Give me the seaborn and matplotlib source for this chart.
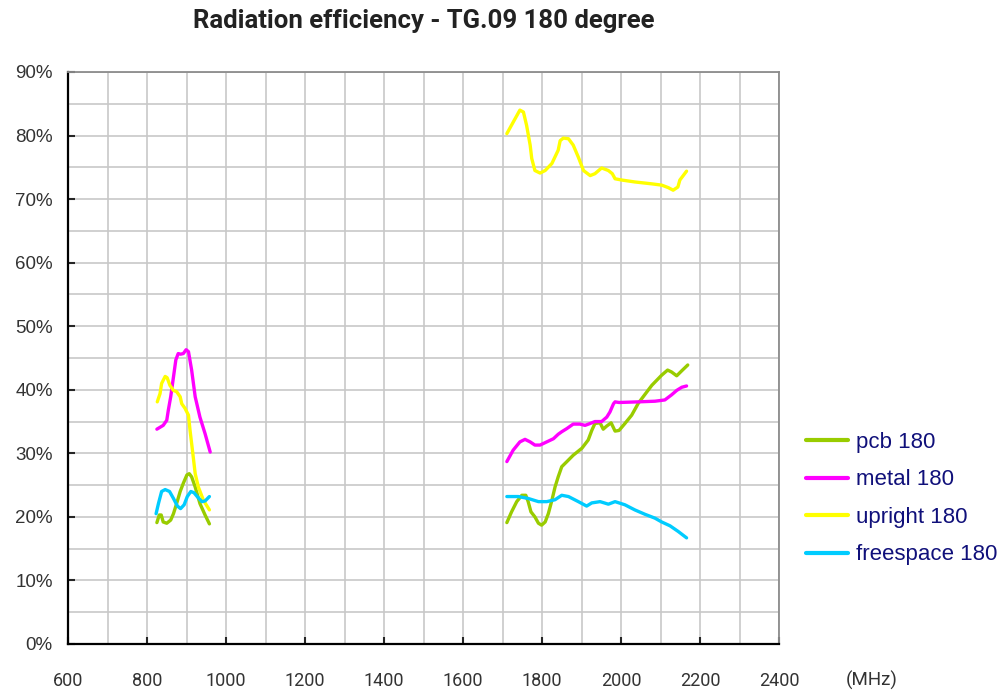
import numpy as np
import pandas as pd
import seaborn as sns
import matplotlib.pyplot as plt
from matplotlib.ticker import MultipleLocator, FuncFormatter

### valores (MHz, eficiencia em %)
pcb_lo_f = [825, 831, 836, 841, 850, 860, 867, 875, 884, 892, 901, 907, 913, 922, 934, 947, 958]
pcb_lo_v = [19.1, 20.3, 20.3, 19.2, 19.0, 19.5, 20.5, 22.1, 24.0, 25.3, 26.6, 26.8, 26.3, 24.7, 22.1, 20.3, 18.9]
pcb_hi_f = [1711, 1723, 1736, 1749, 1759, 1765, 1772, 1782, 1791, 1799, 1808, 1816, 1825, 1833, 1841, 1850,
            1863, 1879, 1901, 1917, 1926, 1934, 1947, 1955, 1964, 1975, 1985, 1995, 2010, 2027, 2044,
            2078, 2103, 2118, 2128, 2141, 2154, 2169]
pcb_hi_v = [19.1, 20.8, 22.4, 23.4, 23.4, 22.4, 20.8, 20.0, 19.0, 18.7, 19.2, 20.5, 22.6, 24.7, 26.3, 27.9,
            28.7, 29.7, 30.8, 32.1, 33.6, 34.7, 34.8, 33.8, 34.3, 34.8, 33.5, 33.6, 34.7, 36.0, 37.9,
            40.7, 42.3, 43.1, 42.8, 42.2, 43.0, 43.9]

metal_lo_f = [825, 841, 850, 854, 860, 867, 873, 879, 885, 892, 899, 905, 913, 922, 934, 947, 960]
metal_lo_v = [33.8, 34.4, 35.2, 36.8, 38.9, 42.0, 44.7, 45.7, 45.6, 45.7, 46.3, 46.0, 43.1, 38.9, 35.7, 33.1, 30.2]
metal_hi_f = [1711, 1727, 1744, 1757, 1770, 1782, 1795, 1812, 1829, 1841, 1850, 1863, 1879, 1896, 1909,
              1922, 1934, 1951, 1964, 1972, 1981, 1985, 1995, 2044, 2086, 2111, 2128, 2141, 2154, 2166]
metal_hi_v = [28.7, 30.5, 31.8, 32.2, 31.8, 31.3, 31.3, 31.8, 32.3, 33.0, 33.4, 33.9, 34.6, 34.6, 34.4,
              34.7, 35.0, 35.0, 35.7, 36.5, 37.8, 38.1, 38.0, 38.1, 38.2, 38.4, 39.2, 39.9, 40.4, 40.6]

upright_lo_f = [826, 833, 837, 846, 851, 858, 867, 875, 884, 888, 896, 905, 909, 916, 922, 930, 943, 958]
upright_lo_v = [38.1, 39.4, 41.0, 42.1, 41.9, 40.7, 39.9, 39.7, 38.9, 37.8, 37.1, 36.0, 33.6, 30.0, 26.8, 24.7, 22.6, 21.1]
upright_hi_f = [1711, 1727, 1744, 1753, 1761, 1770, 1774, 1782, 1795, 1808, 1825, 1841, 1846, 1854, 1867,
                1879, 1892, 1905, 1922, 1934, 1951, 1968, 1978, 1985, 2002, 2035, 2078, 2103, 2120, 2132,
                2144, 2149, 2166]
upright_hi_v = [80.3, 82.1, 84.0, 83.7, 81.6, 78.5, 76.4, 74.5, 74.1, 74.5, 75.6, 77.7, 79.2, 79.6, 79.5,
                78.5, 76.6, 74.5, 73.7, 74.0, 74.9, 74.5, 74.0, 73.2, 73.0, 72.7, 72.4, 72.2, 71.8, 71.4,
                71.9, 73.0, 74.4]

free_lo_f = [823, 829, 837, 846, 857, 867, 877, 885, 894, 902, 911, 919, 927, 939, 947, 958]
free_lo_v = [20.5, 22.1, 24.0, 24.3, 24.0, 22.9, 21.7, 21.3, 21.9, 23.2, 24.0, 23.8, 23.2, 22.4, 22.5, 23.2]
free_hi_f = [1711, 1740, 1765, 1791, 1812, 1833, 1850, 1867, 1892, 1913, 1926, 1947, 1968, 1985, 2010,
             2035, 2061, 2086, 2103, 2124, 2145, 2166]
free_hi_v = [23.2, 23.2, 22.9, 22.4, 22.4, 22.7, 23.4, 23.2, 22.4, 21.7, 22.2, 22.4, 22.0, 22.4, 21.9,
             21.1, 20.4, 19.8, 19.2, 18.6, 17.7, 16.7]

series_names = ["pcb 180", "metal 180", "upright 180", "freespace 180"]
series_colors = ["#99cc00", "#ff00ff", "#ffff00", "#00ccff"]

bands = {
    "pcb 180": [(pcb_lo_f, pcb_lo_v), (pcb_hi_f, pcb_hi_v)],
    "metal 180": [(metal_lo_f, metal_lo_v), (metal_hi_f, metal_hi_v)],
    "upright 180": [(upright_lo_f, upright_lo_v), (upright_hi_f, upright_hi_v)],
    "freespace 180": [(free_lo_f, free_lo_v), (free_hi_f, free_hi_v)],
}

### tabela longa: uma unidade por banda para nao ligar as duas faixas
rows = []
for name, parts in bands.items():
    for b, (f, v) in enumerate(parts):
        for fi, vi in zip(f, v):
            rows.append({"freq": fi, "eff": vi, "series": name, "band": b})
df = pd.DataFrame(rows)

sns.set_style("white")
plt.rcParams["font.family"] = ["Roboto", "DejaVu Sans"]

fig = plt.figure(figsize=(10.05, 6.95), dpi=100)
ax = fig.add_axes([68 / 1005, 1 - 644 / 695, (779 - 68) / 1005, (644 - 72) / 695])

sns.lineplot(data=df, x="freq", y="eff", hue="series", units="band", estimator=None,
             hue_order=series_names, palette=series_colors, linewidth=2.4, ax=ax, legend=False)

ax.set_xlim(600, 2400)
ax.set_ylim(0, 90)
ax.xaxis.set_major_locator(MultipleLocator(200))
ax.xaxis.set_minor_locator(MultipleLocator(100))
ax.yaxis.set_major_locator(MultipleLocator(10))
ax.yaxis.set_minor_locator(MultipleLocator(5))
ax.yaxis.set_major_formatter(FuncFormatter(lambda v, p: f"{v:.0f}%"))
ax.grid(True, which="both", color="#c8c8c8", linewidth=1.2)
ax.set_axisbelow(True)

ax.tick_params(axis="x", which="major", direction="in", length=5, width=1.5, bottom=True,
               pad=20, labelsize=13, labelcolor="#333333")
ax.tick_params(axis="y", which="major", direction="in", length=5, width=1.5, left=True,
               pad=11, labelcolor="#333333")
for lab in ax.get_yticklabels():
    lab.set_fontfamily("Liberation Sans")
    lab.set_fontsize(13.5)
ax.tick_params(which="minor", length=0)
for s in ["left", "bottom"]:
    ax.spines[s].set_color("black")
    ax.spines[s].set_linewidth(1.6)
for s in ["top", "right"]:
    ax.spines[s].set_color("#8c8c8c")
    ax.spines[s].set_linewidth(1.3)
ax.set_xlabel("")
ax.set_ylabel("")

fig.text(423.5 / 1005, 1 - 21 / 695, "Radiation efficiency - TG.09 180 degree",
         ha="center", va="center", fontsize=18.5, fontweight="bold", color="#222222")
fig.text(872 / 1005, 1 - 680 / 695, "(MHz)", ha="center", va="center",
         fontsize=13.5, color="#333333")

handles = [plt.Line2D([], [], color=c, linewidth=3) for c in series_colors]
ax.legend(handles, series_names, loc="upper left", bbox_to_anchor=(806 / 1005, 1 - 432 / 695),
          bbox_transform=fig.transFigure, frameon=False, borderaxespad=0, borderpad=0,
          handlelength=1.9, handletextpad=0.33, labelspacing=0.74,
          prop={"family": "Liberation Sans", "size": 16}, labelcolor="#10107a")

fig.savefig("out.png", dpi=100)
